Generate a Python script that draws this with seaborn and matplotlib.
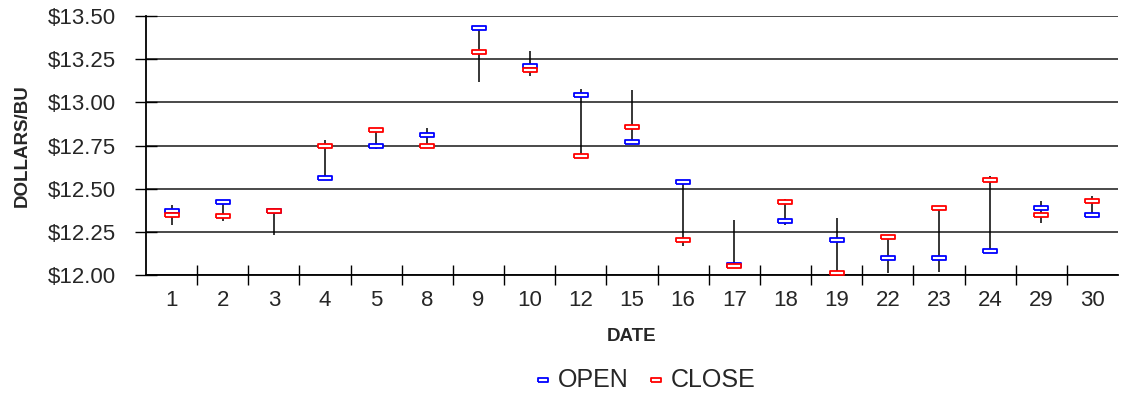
import matplotlib
matplotlib.use("Agg")
import matplotlib.pyplot as plt
import seaborn as sns
import numpy as np
import pandas as pd
from matplotlib.ticker import FixedLocator, FuncFormatter

dates = ["1", "2", "3", "4", "5", "8", "9", "10", "12", "15", "16", "17", "18", "19", "22", "23", "24", "29", "30"]
open_vals = [12.37, 12.42, 12.37, 12.56, 12.75, 12.81, 13.43, 13.21, 13.04, 12.77, 12.54, 12.06, 12.31, 12.20, 12.10, 12.10, 12.14, 12.39, 12.35]
close_vals = [12.35, 12.34, 12.37, 12.75, 12.84, 12.75, 13.29, 13.19, 12.69, 12.86, 12.20, 12.05, 12.42, 12.01, 12.22, 12.39, 12.55, 12.35, 12.43]
high_vals = [12.405, 12.42, 12.39, 12.78, 12.84, 12.85, 13.43, 13.30, 13.08, 13.07, 12.54, 12.32, 12.44, 12.33, 12.22, 12.39, 12.575, 12.43, 12.46]
low_vals = [12.29, 12.31, 12.23, 12.56, 12.73, 12.75, 13.12, 13.15, 12.69, 12.77, 12.17, 12.05, 12.29, 12.00, 12.01, 12.02, 12.14, 12.30, 12.35]
y_ticks = [12.00, 12.25, 12.50, 12.75, 13.00, 13.25, 13.50]

sns.set_style("white")
plt.rcParams['font.family'] = ['Liberation Sans', 'DejaVu Sans']

df = pd.DataFrame({"date": dates, "open": open_vals, "close": close_vals,
                   "high": high_vals, "low": low_vals})

fig = plt.figure(figsize=(11.34, 3.98), dpi=100)
ax = fig.add_axes([146/1134, 1 - 275/398, (1118 - 146)/1134, (275 - 16)/398])

for y in y_ticks:
    ax.axhline(y, color="#3a3a3a", lw=1.3, zorder=0)

ax.vlines(df["date"], df["low"], df["high"], color="black", lw=1.1, zorder=2)

rect = [(-1, -0.28), (1, -0.28), (1, 0.28), (-1, 0.28), (-1, -0.28)]
sns.scatterplot(data=df, x="date", y="open", marker=rect, s=95, color="white",
                edgecolor="#0000ff", linewidth=1.3, label="OPEN", zorder=3, ax=ax)
sns.scatterplot(data=df, x="date", y="close", marker=rect, s=95, color="white",
                edgecolor="#ff0000", linewidth=1.3, label="CLOSE", zorder=4, ax=ax)

ax.set_xlim(-0.5, len(dates) - 0.5)
ax.set_ylim(12.0, 13.5)
ax.yaxis.set_major_locator(FixedLocator(y_ticks))
ax.yaxis.set_major_formatter(FuncFormatter(lambda v, p: f"${v:.2f}"))
ax.xaxis.set_minor_locator(FixedLocator(np.arange(0.5, len(dates) - 1, 1.0)))
ax.tick_params(axis="x", which="major", length=0, pad=11, labelsize=16)
ax.tick_params(axis="x", which="minor", length=15, width=1, direction="inout", color="black")
ax.tick_params(axis="y", which="major", length=16, width=1, direction="inout", color="black", labelsize=16, pad=14)
ax.tick_params(bottom=True, left=True, which="both")

for s in ["top", "right"]:
    ax.spines[s].set_visible(False)
for s in ["left", "bottom"]:
    ax.spines[s].set_color("black")
    ax.spines[s].set_linewidth(1.3)

ax.set_xlabel("DATE", fontsize=13.5, fontweight="bold", labelpad=12)
ax.set_ylabel("DOLLARS/BU", fontsize=13.5, fontweight="bold", labelpad=12)

ax.legend(loc="center", bbox_to_anchor=(642/1134, 1 - 380/398), bbox_transform=fig.transFigure,
          ncol=2, frameon=False, fontsize=18, handletextpad=0.0, columnspacing=0.5,
          markerscale=0.8, handlelength=1.2)

fig.savefig("out.png", dpi=100)
